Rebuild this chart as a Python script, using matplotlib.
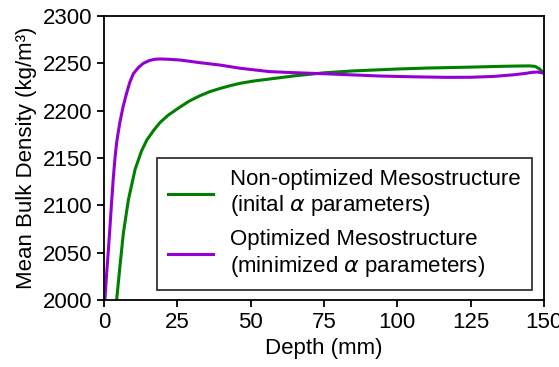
import numpy as np
import matplotlib.pyplot as plt

plt.rcParams['font.family'] = ['Liberation Sans', 'DejaVu Sans']
plt.rcParams['mathtext.fontset'] = 'dejavusans'

# Non-optimized mesostructure (initial alpha)
depth_green = [4.3, 5.45, 6.6, 8.3, 10.6, 12.8, 14.6, 17.0, 19.1, 22.0, 25.9, 29.0, 32.7, 36.0,
               39.5, 43.0, 46.4, 51.0, 56.6, 65.0, 75.0, 85.0, 94.0, 100.0, 110.0, 125.0, 135.0,
               141.8, 145.0, 147.0, 148.5, 150.0]
dens_green = [2000, 2036, 2070.5, 2105.6, 2138, 2157.5, 2169, 2179.5, 2187.5, 2195.5, 2203.8, 2210, 2215.8, 2220,
              2223.4, 2226.4, 2228.9, 2231.3, 2233.5, 2236.8, 2240, 2242, 2243.2, 2244, 2245, 2246, 2246.8,
              2247.2, 2247.3, 2246.8, 2244, 2239.5]

# Optimized mesostructure (minimized alpha)
depth_purple = [0.3, 0.9, 1.5, 2.1, 2.6, 3.2, 3.75, 4.3, 4.9, 5.5, 6.5, 7.7, 8.8, 10.0, 11.7, 13.4,
                15.5, 17.3, 19.1, 22.0, 25.9, 32.7, 39.5, 46.4, 56.6, 66.0, 75.0, 87.0, 94.0, 105.0,
                116.8, 125.0, 133.0, 140.0, 144.0, 146.0, 148.0, 150.0]
dens_purple = [2000, 2028, 2053, 2080, 2104, 2130, 2150, 2166, 2178, 2189, 2204, 2218.4, 2230, 2239, 2245.5, 2250,
               2253, 2254.3, 2254.6, 2254.3, 2253.5, 2250.7, 2248.2, 2244.8, 2241.2, 2240, 2239, 2237.5, 2236.6,
               2235.8, 2235.2, 2235.3, 2236.2, 2238, 2239.5, 2240.5, 2240.8, 2239.5]

labels = ['Non-optimized Mesostructure\n(inital $\\alpha$ parameters)',
          'Optimized Mesostructure\n(minimized $\\alpha$ parameters)']

fig = plt.figure(figsize=(5.59, 3.67), dpi=100)
ax = fig.add_axes([104 / 559, 1 - 300 / 367, 440 / 559, 284 / 367])

ax.plot(depth_green, dens_green, color='green', lw=2.2, label=labels[0])
ax.plot(depth_purple, dens_purple, color='darkviolet', lw=2.2, label=labels[1])

ax.set_xlim(0, 150)
ax.set_ylim(2000, 2300)
ax.set_xticks(np.arange(0, 151, 25))
ax.set_yticks(np.arange(2000, 2301, 50))
ax.tick_params(labelsize=16, width=1.3, length=5)
for s in ax.spines.values():
    s.set_linewidth(1.3)
ax.set_xlabel('Depth (mm)', fontsize=16)
ax.set_ylabel('Mean Bulk Density (kg/m³)', fontsize=16)

leg = ax.legend(loc='lower right', bbox_to_anchor=(0.973, 0.035), borderaxespad=0,
                fontsize=16, fancybox=False, edgecolor='#333333', framealpha=1,
                handlelength=2.0, borderpad=0.5, labelspacing=0.5)
leg.get_frame().set_linewidth(1.3)

fig.savefig('out.png', dpi=100)
